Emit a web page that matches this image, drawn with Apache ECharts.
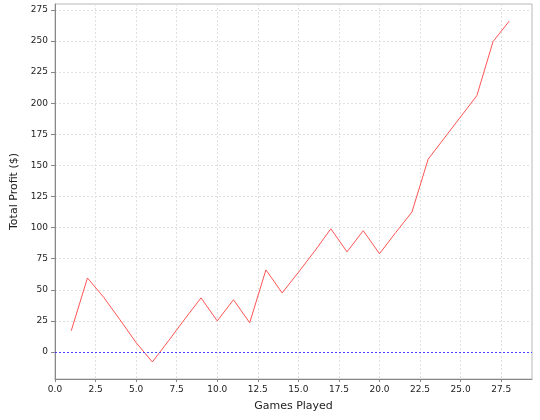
<!DOCTYPE html>
<html>
<head>
<meta charset="utf-8">
<script src="https://cdn.jsdelivr.net/npm/echarts@6/dist/echarts.min.js"></script>
<style>html,body{margin:0;padding:0;background:#fff}#c{width:540px;height:420px}</style>
</head>
<body>
<div id="c"></div>
<script>
var games = [1,2,3,4,5,6,7,8,9,10,11,12,13,14,15,16,17,18,19,20,21,22,23,24,25,26,27,28];
var profit = [17,59.5,44,26,7.5,-8,9,26.5,43.5,25,42,23.5,66,47.5,64,81,99,80.5,97.5,79,96,112.5,155,172,189,206,249.5,266];
var yTicks = [0,25,50,75,100,125,150,175,200,225,250,275];
var xTicks = [0,2.5,5,7.5,10,12.5,15,17.5,20,22.5,25,27.5];
var xName = 'Games Played';
var yName = 'Total Profit ($)';

var points = games.map(function(g,i){return [g, profit[i]];});
var chart = echarts.init(document.getElementById('c'), null, {renderer:'canvas'});
var font = 'DejaVu Sans';
chart.setOption({
  animation:false,
  backgroundColor:'#ffffff',
  grid:{left:55,top:4,right:8,bottom:41,show:true,borderColor:'#b8b8b8',borderWidth:1,backgroundColor:'#ffffff',outerBoundsMode:'none',containLabel:false},
  xAxis:{
    type:'value', min:0, max:29.4,
    name:xName, nameLocation:'middle', nameGap:22,
    nameTextStyle:{fontFamily:font,fontSize:11,color:'#222'},
    axisLine:{show:true,onZero:false,lineStyle:{color:'#888888'}},
    axisTick:{show:true,inside:false,length:3,customValues:xTicks,lineStyle:{color:'#888888'}},
    axisLabel:{fontFamily:font,fontSize:9,color:'#222',margin:6,customValues:xTicks,formatter:function(v){return v.toFixed(1);}},
    splitLine:{show:true,lineStyle:{color:'#e0e0e0',type:[2,2]}}
  },
  yAxis:{
    type:'value', min:-21.7, max:279.7,
    name:yName, nameLocation:'middle', nameGap:30,
    nameTextStyle:{fontFamily:font,fontSize:11,color:'#222'},
    axisLine:{show:true,onZero:false,lineStyle:{color:'#888888'}},
    axisTick:{show:true,inside:false,length:4,customValues:yTicks,lineStyle:{color:'#888888'}},
    axisLabel:{fontFamily:font,fontSize:9,color:'#222',margin:7,customValues:yTicks},
    splitLine:{show:true,lineStyle:{color:'#e0e0e0',type:[2,2]}}
  },
  series:[{
    type:'line', data:points, symbol:'none',
    lineStyle:{color:'#ff5555',width:1},
    markLine:{silent:true,symbol:'none',label:{show:false},
      lineStyle:{color:'#4444ff',type:[2,2],width:1},
      data:[{yAxis:0}]}
  }]
});
</script>
</body>
</html>
